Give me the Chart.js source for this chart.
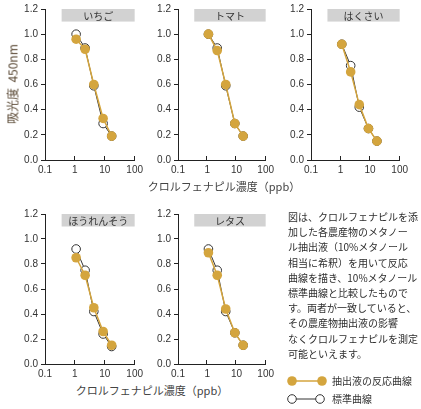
<!DOCTYPE html>
<html lang="ja">
<head>
<meta charset="utf-8">
<script src="https://cdn.jsdelivr.net/npm/chart.js@4"></script>
<style>
  html, body { margin: 0; padding: 0; background: #fff; }
  body { width: 421px; height: 409px; position: relative; overflow: hidden;
         font-family: "Noto Sans CJK JP", "Noto Sans", sans-serif; }
  canvas { position: absolute; }
  .ytitle { position: absolute; left: 12px; top: 84px; transform: translate(-50%, -50%) rotate(-90deg);
            white-space: nowrap; font-size: 12px; color: #5b4a36; }
  .xtitle { position: absolute; transform: translate(-50%, -50%); white-space: nowrap;
            font-size: 11px; color: #444; }
  .note { position: absolute; left: 288px; top: 209px; font-size: 10px; line-height: 15.2px;
          color: #2e2e2e; white-space: nowrap; }
  .legend { position: absolute; left: 286px; font-size: 10px; color: #333; display: flex;
            align-items: center; white-space: nowrap; }
  .legend svg { margin-right: 4px; }
</style>
</head>
<body>
<canvas id="c1"></canvas>
<canvas id="c2"></canvas>
<canvas id="c3"></canvas>
<canvas id="c4"></canvas>
<canvas id="c5"></canvas>

<div class="ytitle">吸光度&nbsp;&nbsp;450nm</div>
<div class="xtitle" style="left:224px; top:186px;">クロルフェナピル濃度（ppb）</div>
<div class="xtitle" style="left:152px; top:390px;">クロルフェナピル濃度（ppb）</div>

<div class="note">
図は、クロルフェナピルを添<br>
加した各農産物のメタノー<br>
ル抽出液（10%メタノール<br>
相当に希釈）を用いて反応<br>
曲線を描き、10%メタノール<br>
標準曲線と比較したもので<br>
す。両者が一致していると、<br>
その農産物抽出液の影響<br>
なくクロルフェナピルを測定<br>
可能といえます。
</div>

<div class="legend" style="top:373px;">
  <svg width="42" height="14"><line x1="6" y1="7" x2="36" y2="7" stroke="#d4a53e" stroke-width="1.5"/>
    <circle cx="6" cy="7" r="4.8" fill="#d4a53e"/><circle cx="36" cy="7" r="4.8" fill="#d4a53e"/></svg>
  <span>抽出液の反応曲線</span>
</div>
<div class="legend" style="top:391px;">
  <svg width="42" height="14"><line x1="6" y1="7" x2="34" y2="7" stroke="#333" stroke-width="1"/>
    <circle cx="6" cy="7" r="4.3" fill="#fff" stroke="#333"/><circle cx="34" cy="7" r="4.3" fill="#fff" stroke="#333"/></svg>
  <span>標準曲線</span>
</div>

<script>
// concentrations (ppb), same for every crop
const CONC = [1.1, 2.2, 4.3, 8.8, 17];

const CROPS = ["いちご", "トマト", "はくさい", "ほうれんそう", "レタス"];

// absorbance of the crop extract response curve
const RESP_ICHIGO = [0.96, 0.88, 0.60, 0.33, 0.19];
const RESP_TOMATO = [1.00, 0.87, 0.60, 0.29, 0.19];
const RESP_HAKUSAI = [0.92, 0.70, 0.44, 0.25, 0.15];
const RESP_HOURENSOU = [0.85, 0.71, 0.45, 0.26, 0.15];
const RESP_RETASU = [0.89, 0.71, 0.44, 0.25, 0.15];

// absorbance of the standard curve
const STD_ICHIGO = [1.00, 0.89, 0.59, 0.29, 0.19];
const STD_TOMATO = [1.00, 0.89, 0.59, 0.29, 0.19];
const STD_HAKUSAI = [0.92, 0.75, 0.42, 0.25, 0.15];
const STD_HOURENSOU = [0.92, 0.75, 0.42, 0.24, 0.14];
const STD_RETASU = [0.92, 0.75, 0.42, 0.25, 0.15];

const X_TICKS = [0.1, 1, 10, 100];
const Y_TICKS = [0, 0.2, 0.4, 0.6, 0.8, 1.0, 1.2];

const GOLD = "#d4a53e";
const INK = "#222";

Chart.defaults.font.family = "'Liberation Sans', Arial, sans-serif";
Chart.defaults.font.size = 10;
Chart.defaults.color = "#333";

// grey title band across the top of each plot
const bandPlugin = {
  id: "band",
  beforeDatasetsDraw(chart, args, opts) {
    const { ctx, scales: { x, y } } = chart;
    const left = x.getPixelForValue(0.36);
    const right = x.right;
    const top = y.getPixelForValue(1.2);
    const bottom = y.getPixelForValue(1.1);
    ctx.save();
    ctx.fillStyle = "#d2d2d2";
    ctx.fillRect(left, top, right - left, bottom - top);
    ctx.fillStyle = "#333";
    ctx.font = "10px 'Noto Sans CJK JP', sans-serif";
    ctx.textAlign = "center";
    ctx.textBaseline = "middle";
    ctx.fillText(opts.text, (left + right) / 2, (top + bottom) / 2 + 0.5);
    ctx.restore();
  },
};

// x ticks point up into the plot
const innerTicks = {
  id: "innerTicks",
  afterDraw(chart) {
    const { ctx, scales: { x } } = chart;
    ctx.save();
    ctx.strokeStyle = INK;
    ctx.lineWidth = 1;
    X_TICKS.slice(1).forEach((v) => {
      const px = Math.round(x.getPixelForValue(v)) - 0.5;
      ctx.beginPath();
      ctx.moveTo(px, x.top);
      ctx.lineTo(px, x.top - 4);
      ctx.stroke();
    });
    ctx.restore();
  },
};

function makeChart(id, pos, title, resp, std) {
  const canvas = document.getElementById(id);
  canvas.width = pos.w;
  canvas.height = pos.h;
  canvas.style.left = pos.left + "px";
  canvas.style.top = pos.top + "px";
  canvas.style.width = pos.w + "px";
  canvas.style.height = pos.h + "px";

  return new Chart(canvas, {
    type: "scatter",
    data: {
      datasets: [
        {
          data: CONC.map((x, i) => ({ x, y: resp[i] })),
          showLine: true,
          borderColor: GOLD,
          borderWidth: 1.5,
          pointRadius: 4.8,
          pointBackgroundColor: GOLD,
          pointBorderWidth: 0,
          order: 0,
        },
        {
          data: CONC.map((x, i) => ({ x, y: std[i] })),
          showLine: true,
          borderColor: "#333",
          borderWidth: 1,
          pointRadius: 4.3,
          pointBackgroundColor: "#fff",
          pointBorderColor: "#333",
          pointBorderWidth: 1,
          order: 1,
        },
      ],
    },
    options: {
      responsive: false,
      animation: false,
      clip: false,
      layout: { padding: { top: 8, right: 10, left: 0, bottom: 0 } },
      plugins: {
        legend: { display: false },
        tooltip: { enabled: false },
        band: { text: title },
      },
      scales: {
        x: {
          type: "logarithmic",
          min: 0.1,
          max: 100,
          afterBuildTicks: (s) => { s.ticks = X_TICKS.map((value) => ({ value })); },
          afterFit: (s) => { s.height = 16; },
          ticks: { padding: 4, autoSkip: false, maxRotation: 0, callback: (v) => String(v) },
          grid: { display: false, drawTicks: false },
          border: { color: INK, width: 1 },
        },
        y: {
          min: 0,
          max: 1.2,
          afterBuildTicks: (s) => { s.ticks = Y_TICKS.map((value) => ({ value })); },
          afterFit: (s) => { s.width = pos.yw; },
          ticks: { padding: 3, callback: (v) => v.toFixed(1) },
          grid: { drawOnChartArea: false, drawTicks: true, tickLength: 4, color: INK },
          border: { color: INK, width: 1 },
        },
      },
    },
    plugins: [bandPlugin, innerTicks],
  });
}

makeChart("c1", { left: 0, top: 0, w: 147, h: 176, yw: 45 }, CROPS[0], RESP_ICHIGO, STD_ICHIGO);
makeChart("c2", { left: 142, top: 0, w: 136, h: 176, yw: 36 }, CROPS[1], RESP_TOMATO, STD_TOMATO);
makeChart("c3", { left: 275, top: 0, w: 137, h: 176, yw: 36 }, CROPS[2], RESP_HAKUSAI, STD_HAKUSAI);
makeChart("c4", { left: 0, top: 205, w: 147, h: 175, yw: 45 }, CROPS[3], RESP_HOURENSOU, STD_HOURENSOU);
makeChart("c5", { left: 142, top: 205, w: 136, h: 175, yw: 36 }, CROPS[4], RESP_RETASU, STD_RETASU);
</script>
</body>
</html>
